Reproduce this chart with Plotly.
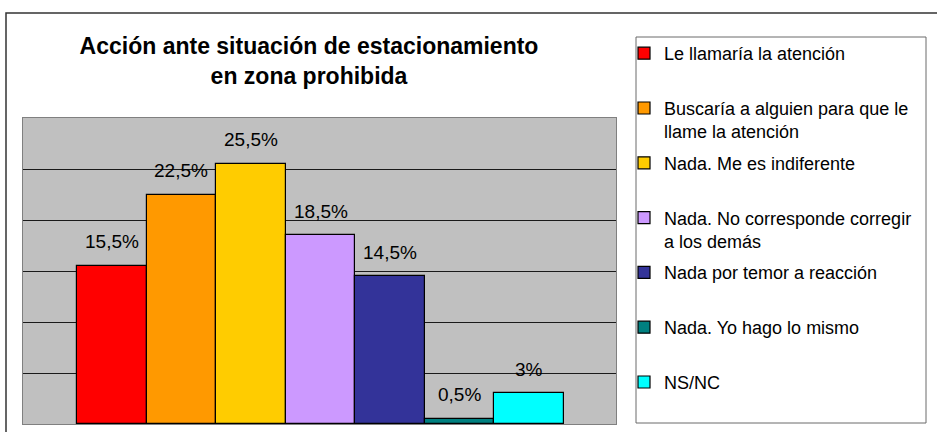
import plotly.graph_objects as go

# ---- data ----
categories = [
    "Le llamaría la atención",
    "Buscaría a alguien para que le llame la atención",
    "Nada. Me es indiferente",
    "Nada. No corresponde corregir a los demás",
    "Nada por temor a reacción",
    "Nada. Yo hago lo mismo",
    "NS/NC",
]
legend_labels = [
    "Le llamaría la atención",
    "Buscaría a alguien para que le<br>llame la atención",
    "Nada. Me es indiferente",
    "Nada. No corresponde corregir<br>a los demás",
    "Nada por temor a reacción",
    "Nada. Yo hago lo mismo",
    "NS/NC",
]
values = [15.5, 22.5, 25.5, 18.5, 14.5, 0.5, 3]
colors = ["#FF0000", "#FF9900", "#FFCC00", "#CC99FF", "#333399", "#008080", "#00FFFF"]
title_text = "Acción ante situación de estacionamiento<br>en zona prohibida"

FONT = "Liberation Sans, Arial, sans-serif"
W, H = 937, 432
L, R, T, B = 23, 321, 118, 8
pw, ph = W - L - R, H - T - B


def fmt(v):
    s = f"{v:g}".replace(".", ",")
    return s + "%"


def px_x(px):
    return (px - L) / pw


def px_y(py):
    return (H - B - py) / ph


fig = go.Figure()
for i, (cat, lab, v, c) in enumerate(zip(categories, legend_labels, values, colors)):
    if "<br>" not in lab:
        lab = lab + "<br> "
    fig.add_trace(go.Bar(
        x=[cat], y=[v], name=lab,
        marker=dict(color=c, line=dict(color="#000000", width=1.2)),
        legendgroup=f"g{i}",
        hoverinfo="skip",
    ))
    fig.add_annotation(
        x=cat, y=v, text=fmt(v), showarrow=False,
        yanchor="middle", yshift=24,
        font=dict(family=FONT, size=19, color="#000000"),
    )

legend_common = dict(
    xref="container", yref="container",
    x=624 / W, xanchor="left", yanchor="top",
    font=dict(family=FONT, size=18, color="#000000"),
    bgcolor="rgba(0,0,0,0)", borderwidth=0,
    traceorder="grouped", tracegroupgap=5, valign="top",
)

fig.update_layout(
    width=W, height=H,
    margin=dict(l=L, r=R, t=T, b=B),
    paper_bgcolor="#FFFFFF",
    plot_bgcolor="#C0C0C0",
    barmode="overlay",
    bargap=0,
    showlegend=True,
    title=dict(
        text=title_text, x=309 / W, xanchor="center",
        yref="container", y=1 - 54 / H, yanchor="top",
        font=dict(family=FONT, size=23, color="#000000", weight="bold"),
    ),
    legend=dict(legend_common, y=1 - 35 / H),
    xaxis=dict(
        type="category", categoryorder="array", categoryarray=categories,
        range=[-1.276, 7.247], showticklabels=False, showgrid=False,
        showline=True, linecolor="#808080", linewidth=1, mirror=True,
        fixedrange=True,
    ),
    yaxis=dict(
        range=[0, 30], dtick=5, showticklabels=False,
        showgrid=True, gridcolor="#1a1a1a", gridwidth=1,
        zeroline=False,
        showline=True, linecolor="#808080", linewidth=1, mirror=True,
        fixedrange=True,
    ),
    shapes=[
        # legend frame
        dict(type="rect", xref="paper", yref="paper",
             x0=px_x(636), x1=px_x(926), y0=px_y(423), y1=px_y(37),
             line=dict(color="#6a6a6a", width=1), fillcolor="rgba(0,0,0,0)", layer="below"),
        # outer chart frame
        dict(type="rect", xref="paper", yref="paper",
             x0=px_x(6), x1=px_x(1000), y0=px_y(500), y1=px_y(13),
             line=dict(color="#333333", width=1.5), fillcolor="rgba(0,0,0,0)", layer="below"),
    ],
)

# allow the legend to be as tall as the figure (avoid scrolling)
try:
    fig.layout.legend.maxheight = 420
except Exception:
    # fallback: split the legend in two so neither part has to scroll
    for i, tr in enumerate(fig.data):
        if i >= 4:
            tr.legend = "legend2"
    fig.update_layout(legend2=dict(legend_common, y=1 - 253 / H))

fig.write_html(
    "out.html",
    config={"displayModeBar": False},
    post_script="document.body.style.margin='0px';",
)
